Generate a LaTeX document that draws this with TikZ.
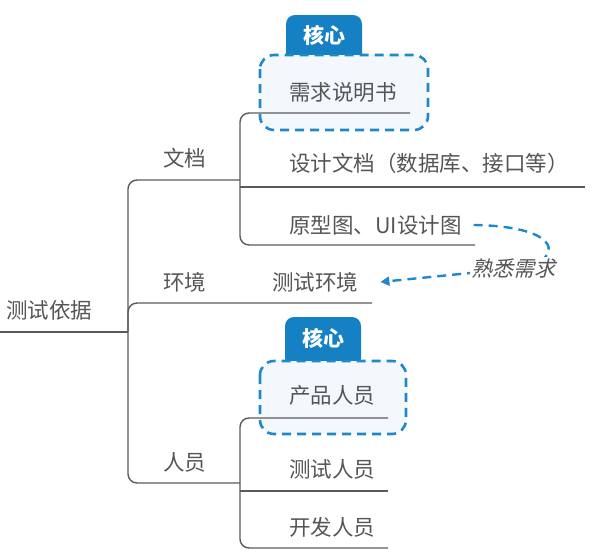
\documentclass[tikz,border=0pt]{standalone}
\usepackage{fontspec}
\setmainfont{Noto Sans CJK SC}
\newfontfamily\cjkslant[FakeSlant=0.25]{Noto Sans CJK SC}
\usetikzlibrary{arrows.meta}
\definecolor{txtgray}{HTML}{555555}
\definecolor{linegray}{HTML}{5A5A5A}
\definecolor{coreblue}{HTML}{1580C4}
\definecolor{dashblue}{HTML}{1E88C8}
\definecolor{boxfill}{HTML}{F3F8FC}
\tikzset{
  lbl/.style={anchor=west, inner sep=0pt, text=txtgray, font=\fontsize{21.5}{23}\selectfont},
  tree/.style={draw=linegray, line width=1.4pt, rounded corners=9pt},
  coretag/.style={fill=coreblue, rounded corners=9pt, inner sep=0pt},
  coretxt/.style={text=white, font=\bfseries\fontsize{21}{23}\selectfont, inner sep=0pt},
  corebox/.style={draw=dashblue, fill=boxfill, line width=2.6pt, dash pattern=on 9pt off 6pt, rounded corners=14pt},
  hint/.style={draw=dashblue, line width=2.4pt, dash pattern=on 9pt off 6pt, -{Triangle[length=9pt,width=9pt]}}
}
\begin{document}
\begin{tikzpicture}[x=1pt,y=-1pt]
\useasboundingbox (0,0) rectangle (606,555);

% core tags and dashed boxes
\node[coretag, minimum width=76pt, minimum height=50pt] (tag1) at (324,40) {};
\node[coretxt] (tag1t) at (324,35) {核心};
\draw[corebox] (260,55) rectangle (428,130);
\node[coretag, minimum width=76pt, minimum height=50pt] (tag2) at (323,342) {};
\node[coretxt] (tag2t) at (323,338) {核心};
\draw[corebox] (260,361) rectangle (406,434);

% coordinates for the tree lines
\coordinate (root0) at (0,332);
\coordinate (trk) at (128,332);
\coordinate (doc0) at (240,180);
\coordinate (env1) at (372,303);
\coordinate (per0) at (240,483);
\coordinate (d1) at (410,113);
\coordinate (d2a) at (240,187);
\coordinate (d2) at (585,187);
\coordinate (d3) at (475,245);
\coordinate (p1) at (388,418);
\coordinate (p2a) at (240,491);
\coordinate (p2) at (388,491);
\coordinate (p3) at (388,548);

\draw[tree] (root0) -- (trk);
\draw[tree] (doc0) -- (128,180) -- (128,483) -- (per0);
\draw[tree] (trk) -- (128,303) -- (env1);
\draw[tree] (d1) -- (240,113) -- (240,245) -- (d3);
\draw[tree] (d2a) -- (d2);
\draw[tree] (p1) -- (240,418) -- (240,548) -- (p3);
\draw[tree] (p2a) -- (p2);

% texts
\node[lbl] (root) at (6,310) {测试依据};
\node[lbl] (doc) at (163,158) {文档};
\node[lbl] (env) at (163,282) {环境};
\node[lbl] (per) at (163,462) {人员};
\node[lbl] (req) at (289,92) {需求说明书};
\node[lbl] (design) at (289,163) {设计文档（数据库、接口等）};
\node[lbl] (proto) at (289,225) {原型图、UI设计图};
\node[lbl] (testenv) at (272,282) {测试环境};
\node[lbl] (prod) at (289,395) {产品人员};
\node[lbl] (tester) at (289,469) {测试人员};
\node[lbl] (dev) at (289,527) {开发人员};

% hint arrow
\draw[hint] ([xshift=12pt]proto.east) .. controls (552,226) and (566,252) .. (530,267) -- ([xshift=22pt]testenv.east);
\node[fill=white, inner sep=1pt, text=txtgray, font=\cjkslant\fontsize{21}{23}\selectfont] (fam) at (513,268) {熟悉需求};
\end{tikzpicture}
\end{document}
